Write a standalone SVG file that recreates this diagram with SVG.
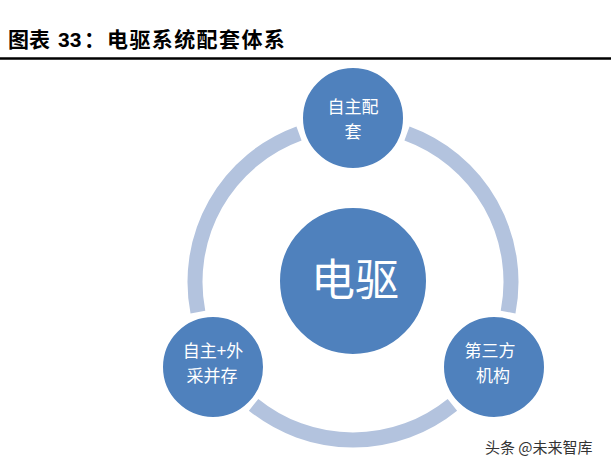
<svg xmlns="http://www.w3.org/2000/svg" width="611" height="467" viewBox="0 0 611 467">
<style>
.title{font-family:"Liberation Sans","Noto Sans CJK SC",sans-serif;font-size:21px;font-weight:bold;fill:#000}
.node{fill:#4F81BD;stroke:#fff;stroke-width:2}
.lbl{font-family:"Noto Sans CJK SC",sans-serif;font-size:17px;fill:#fff;text-anchor:middle}
.big{font-family:"Noto Sans CJK SC",sans-serif;font-size:44px;fill:#fff;text-anchor:middle}
.arc{fill:none;stroke:#B3C3DE;stroke-width:15;stroke-linecap:butt}
.wm{font-family:"Noto Sans CJK SC",sans-serif;font-size:15px;fill:#333}
</style>
<rect width="611" height="467" fill="#fff"/>
<text class="title" y="47"><tspan x="8">图表</tspan><tspan x="58" font-family="Liberation Sans, sans-serif">33</tspan><tspan x="84">：</tspan><tspan x="107" letter-spacing="1.4">电驱系统配套体系</tspan></text>
<line x1="0" y1="58.5" x2="611" y2="58.5" stroke="#000" stroke-width="2.5"/>
<g id="connectors">
<path class="arc" d="M407.0,133.5 A158,158 0 0 1 508.1,312.1"/>
<path class="arc" d="M452.4,404.8 A158,158 0 0 1 253.6,404.8"/>
<path class="arc" d="M197.9,312.1 A158,158 0 0 1 299.0,133.5"/>
</g>
<g id="center">
<circle class="node" cx="353" cy="281" r="74"/>
<text class="big" x="355" y="296">电驱</text>
</g>
<g id="top">
<circle class="node" cx="353" cy="118" r="51"/>
<text class="lbl"><tspan x="353" y="112.5">自主配</tspan><tspan x="353" y="137.5">套</tspan></text>
</g>
<g id="left">
<circle class="node" cx="213" cy="367" r="51"/>
<text class="lbl"><tspan x="213" y="356.5">自主+外</tspan><tspan x="212" y="381.5">采并存</tspan></text>
</g>
<g id="right">
<circle class="node" cx="494" cy="367" r="51"/>
<text class="lbl"><tspan x="490" y="356.5">第三方</tspan><tspan x="493" y="381.5">机构</tspan></text>
</g>
<text class="wm" x="485" y="453">头条 @未来智库</text>
</svg>
